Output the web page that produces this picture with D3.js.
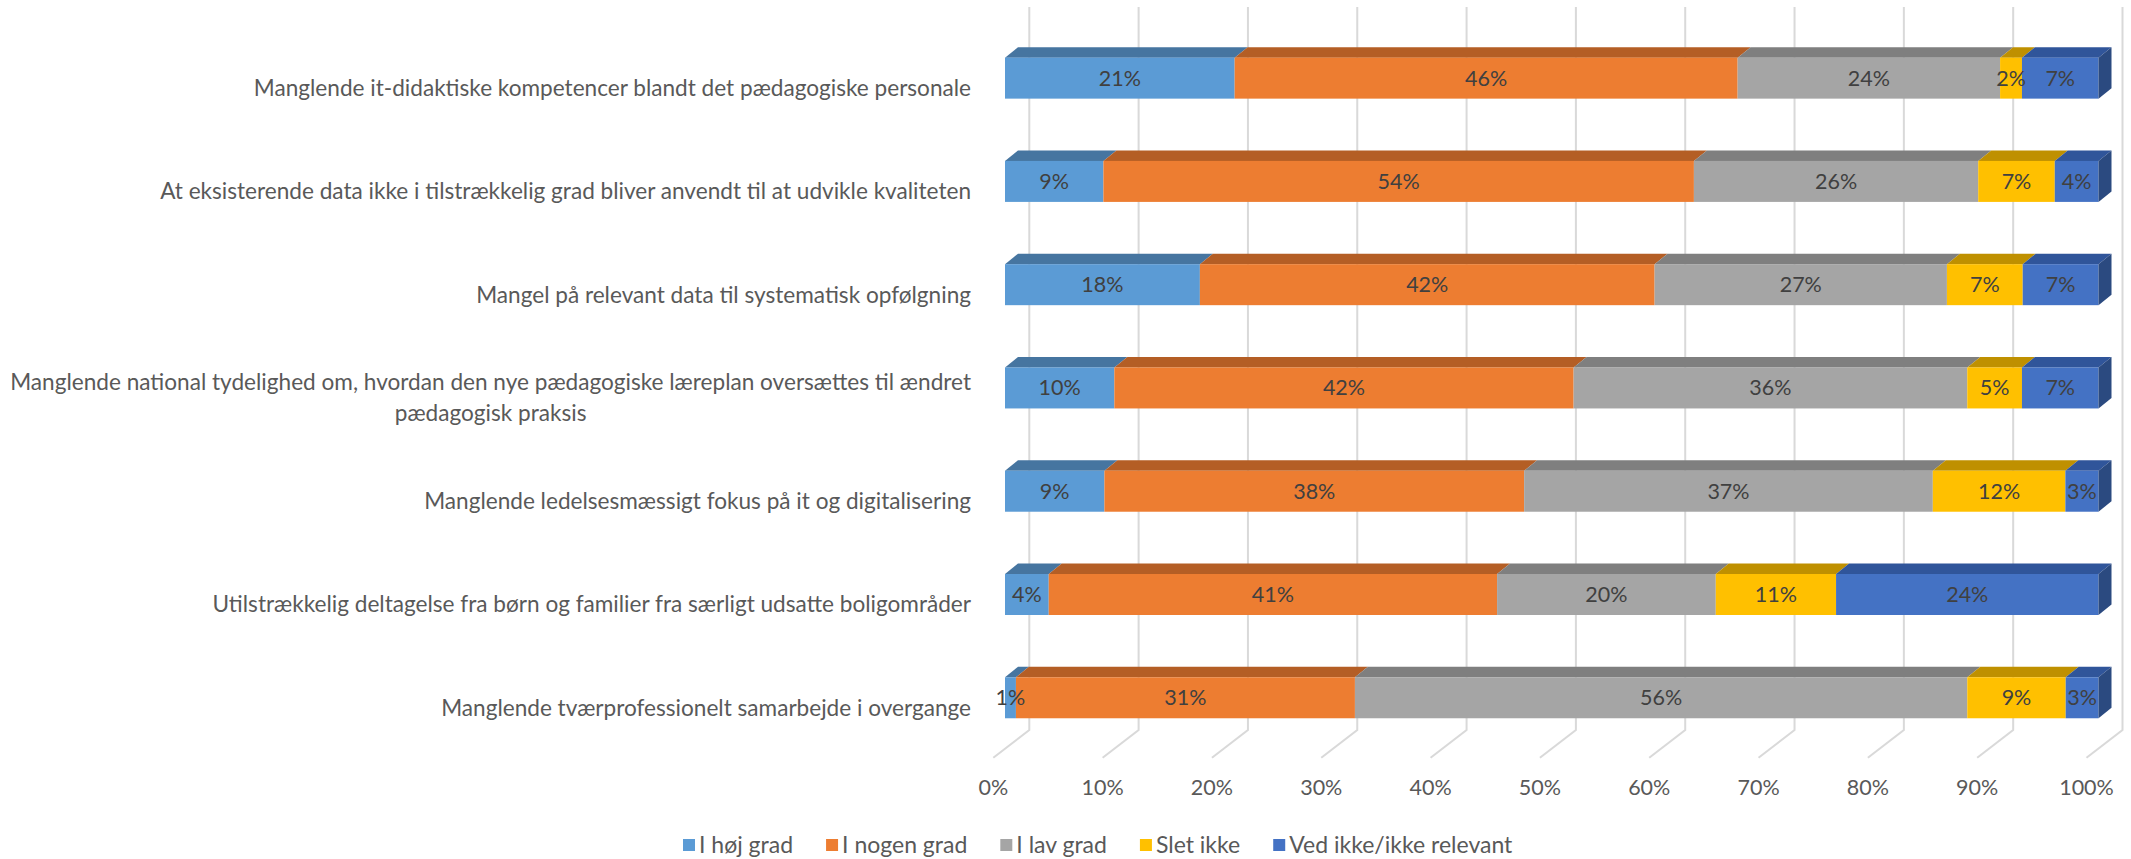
<!DOCTYPE html>
<html>
<head>
<meta charset="utf-8">
<script src="https://cdn.jsdelivr.net/npm/d3@7"></script>
<style>
  body { margin: 0; background: #fff; }
  svg text { font-family: Lato, "Open Sans", sans-serif; }
</style>
</head>
<body>
<svg id="chart" width="2131" height="859"></svg>
<script>
// categories, top to bottom
const categories = [
    "Manglende it-didaktiske kompetencer blandt det pædagogiske personale",
    "At eksisterende data ikke i tilstrækkelig grad bliver anvendt til at udvikle kvaliteten",
    "Mangel på relevant data til systematisk opfølgning",
    "Manglende national tydelighed om, hvordan den nye pædagogiske læreplan oversættes til ændret\npædagogisk praksis",
    "Manglende ledelsesmæssigt fokus på it og digitalisering",
    "Utilstrækkelig deltagelse fra børn og familier fra særligt udsatte boligområder",
    "Manglende tværprofessionelt samarbejde i overgange"
];

const seriesNames = ["I høj grad", "I nogen grad", "I lav grad", "Slet ikke", "Ved ikke/ikke relevant"];

const hoejGrad  = [21,  9, 18, 10,  9,  4,  1];
const nogenGrad = [46, 54, 42, 42, 38, 41, 31];
const lavGrad   = [24, 26, 27, 36, 37, 20, 56];
const sletIkke  = [ 2,  7,  7,  5, 12, 11,  9];
const vedIkke   = [ 7,  4,  7,  7,  3, 24,  3];

const xTicks = [0, 0.1, 0.2, 0.3, 0.4, 0.5, 0.6, 0.7, 0.8, 0.9, 1];

// front / top / side colours per series
const frontColors = ["#5B9BD5", "#ED7D31", "#A5A5A5", "#FFC000", "#4472C4"];
const topColors   = ["#4675A0", "#B45E25", "#7F7F7F", "#BF9000", "#30559A"];
const sideColor   = "#2B4A80";

let rows = categories.map((c, i) => ({
    cat: c,
    [seriesNames[0]]: hoejGrad[i],
    [seriesNames[1]]: nogenGrad[i],
    [seriesNames[2]]: lavGrad[i],
    [seriesNames[3]]: sletIkke[i],
    [seriesNames[4]]: vedIkke[i]
}));

let stack = d3.stack()
    .keys(seriesNames)
    .offset(d3.stackOffsetExpand);
let layers = stack(rows);

let svg = d3.select("#chart");

// scales
let x = d3.scaleLinear().domain([0, 1]).range([1005, 2098.5]);       // bar front face
let xWall = d3.scaleLinear().domain([0, 1]).range([1029.3, 2122.5]); // back wall
let y = d3.scaleBand().domain(categories).range([26.5, 749.4]);

const barH = 41;
const depthX = 13;
const depthY = 10.5;
const wallTop = 7;
const wallBottom = 730;
const floorDx = -36;
const floorDy = 27.7;
const labelSize = 22.6;

let barTop = c => y(c) + y.bandwidth() / 2 - barH / 2;

// gridlines (back wall + floor)
let grid = svg.append("g").attr("class", "grid");
grid.selectAll("path")
    .data(xTicks)
    .enter().append("path")
    .attr("d", d => "M" + xWall(d) + "," + wallTop
        + "L" + xWall(d) + "," + wallBottom
        + "L" + (xWall(d) + floorDx) + "," + (wallBottom + floorDy))
    .attr("fill", "none")
    .attr("stroke", "#D9D9D9")
    .attr("stroke-width", 2);

// x tick labels
svg.append("g").selectAll("text")
    .data(xTicks)
    .enter().append("text")
    .attr("x", d => xWall(d) + floorDx)
    .attr("y", 795)
    .attr("text-anchor", "middle")
    .attr("font-size", 21.5)
    .attr("fill", "#595959")
    .text(d => d3.format(".0%")(d));

// bars
let bars = svg.append("g").attr("class", "bars");

layers.forEach((layer, k) => {
    let g = bars.append("g");

    // top faces
    g.selectAll("path.top")
        .data(layer)
        .enter().append("path")
        .attr("class", "top")
        .attr("d", d => {
            let t = barTop(d.data.cat);
            let x0 = x(d[0]), x1 = x(d[1]);
            return "M" + x0 + "," + t
                + "L" + (x0 + depthX) + "," + (t - depthY)
                + "L" + (x1 + depthX) + "," + (t - depthY)
                + "L" + x1 + "," + t + "Z";
        })
        .attr("fill", topColors[k]);

    // front faces
    g.selectAll("rect")
        .data(layer)
        .enter().append("rect")
        .attr("x", d => x(d[0]))
        .attr("y", d => barTop(d.data.cat))
        .attr("width", d => x(d[1]) - x(d[0]))
        .attr("height", barH)
        .attr("fill", frontColors[k]);

    // right side of the last segment
    if (k == layers.length - 1) {
        g.selectAll("path.side")
            .data(layer)
            .enter().append("path")
            .attr("class", "side")
            .attr("d", d => {
                let t = barTop(d.data.cat);
                let x1 = x(d[1]);
                return "M" + x1 + "," + t
                    + "L" + (x1 + depthX) + "," + (t - depthY)
                    + "L" + (x1 + depthX) + "," + (t - depthY + barH)
                    + "L" + x1 + "," + (t + barH) + "Z";
            })
            .attr("fill", sideColor);
    }
});

// data labels
layers.forEach((layer, k) => {
    bars.append("g").selectAll("text")
        .data(layer)
        .enter().append("text")
        .attr("x", d => (x(d[0]) + x(d[1])) / 2)
        .attr("y", d => barTop(d.data.cat) + barH / 2 + 7.5)
        .attr("text-anchor", "middle")
        .attr("font-size", 21.5)
        .attr("fill", "#404040")
        .text(d => d.data[seriesNames[k]] + "%");
});

// category labels (right aligned block, lines centred)
let catG = svg.append("g").attr("class", "cats");
categories.forEach(c => {
    let lines = c.split("\n");
    let cy = y(c) + y.bandwidth() / 2 + 10;
    let lh = 31;
    let t = catG.append("text")
        .attr("font-size", labelSize)
        .attr("fill", "#595959");
    lines.forEach((l, i) => {
        t.append("tspan")
            .attr("y", cy + 8 + (i - (lines.length - 1) / 2) * lh)
            .text(l);
    });
    let maxW = 0;
    t.selectAll("tspan").each(function () {
        maxW = Math.max(maxW, this.getComputedTextLength());
    });
    if (lines.length > 1) {
        t.attr("text-anchor", "middle");
        t.selectAll("tspan").attr("x", 971 - maxW / 2);
    } else {
        t.attr("text-anchor", "end");
        t.selectAll("tspan").attr("x", 971);
    }
});

// legend
let legend = svg.append("g").attr("class", "legend");
let lx = 683;
seriesNames.forEach((s, k) => {
    legend.append("rect")
        .attr("x", lx)
        .attr("y", 839)
        .attr("width", 12)
        .attr("height", 12)
        .attr("fill", frontColors[k]);
    let t = legend.append("text")
        .attr("x", lx + 16)
        .attr("y", 853)
        .attr("font-size", 23)
        .attr("fill", "#595959")
        .text(s);
    lx += 16 + t.node().getComputedTextLength() + 33;
});
</script>
</body>
</html>
